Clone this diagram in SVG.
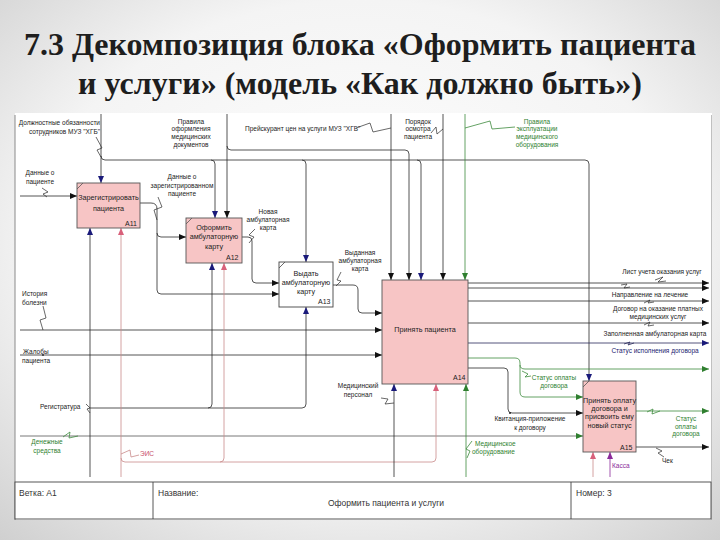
<svg xmlns="http://www.w3.org/2000/svg" width="720" height="540" viewBox="0 0 720 540">
<defs>
<radialGradient id="bg" cx="50%" cy="45%" r="75%">
<stop offset="0" stop-color="#ffffff"/>
<stop offset="0.6" stop-color="#f4f4f4"/>
<stop offset="1" stop-color="#cfcfcf"/>
</radialGradient>
<marker id="ak" markerUnits="userSpaceOnUse" markerWidth="7" markerHeight="6" refX="7" refY="3" orient="auto"><path d="M0,0 L7,3 L0,6 z" fill="#111"/></marker>
<marker id="an" markerUnits="userSpaceOnUse" markerWidth="7" markerHeight="6" refX="7" refY="3" orient="auto"><path d="M0,0 L7,3 L0,6 z" fill="#1a1a7a"/></marker>
<marker id="ag" markerUnits="userSpaceOnUse" markerWidth="7" markerHeight="6" refX="7" refY="3" orient="auto"><path d="M0,0 L7,3 L0,6 z" fill="#2f7f2f"/></marker>
<marker id="ap" markerUnits="userSpaceOnUse" markerWidth="7" markerHeight="6" refX="7" refY="3" orient="auto"><path d="M0,0 L7,3 L0,6 z" fill="#d8607a"/></marker>
<marker id="av" markerUnits="userSpaceOnUse" markerWidth="7" markerHeight="6" refX="7" refY="3" orient="auto"><path d="M0,0 L7,3 L0,6 z" fill="#8a2a9a"/></marker>
</defs>
<style>
.t{font-family:"Liberation Serif","Times New Roman",serif;font-weight:bold;font-size:32px;fill:#1e1e1e;text-anchor:middle}
.lb{font-family:"Liberation Sans",Arial,sans-serif;font-size:6.5px;fill:#222}
.bx{font-family:"Liberation Sans",Arial,sans-serif;font-size:7.2px;fill:#222;text-anchor:middle}
.id{font-family:"Liberation Sans",Arial,sans-serif;font-size:7px;fill:#222}
.tb{font-family:"Liberation Sans",Arial,sans-serif;font-size:8.5px;fill:#333}
.c{text-anchor:middle}
.e{text-anchor:end}
.gt{fill:#2f7f2f}
.nt{fill:#1a1a6e}
.rt{fill:#c8506a}
.vt{fill:#8a2a9a}
.box{fill:#f7c5c5;stroke:#555;stroke-width:0.9}
.wbox{fill:#ffffff;stroke:#444;stroke-width:0.9}
.k{fill:none;stroke:#2a2a2a;stroke-width:0.8}
.g{fill:none;stroke:#3d8a3d;stroke-width:0.8}
.p{fill:none;stroke:#c98a8a;stroke-width:0.8}
.n{fill:none;stroke:#2a2a5a;stroke-width:0.8}
.v{fill:none;stroke:#8a2a9a;stroke-width:0.8}
.z{fill:none;stroke:#2a2a2a;stroke-width:0.7}
</style>
<rect x="0" y="0" width="720" height="540" fill="url(#bg)"/>
<rect x="15" y="113" width="697" height="407" fill="#ffffff"/>
<line x1="15" y1="115" x2="15" y2="520" stroke="#8a8a8a" stroke-width="1"/>
<line x1="711.5" y1="115" x2="711.5" y2="520" stroke="#b0b0b0" stroke-width="0.8"/>

<text class="t" x="360" y="55">7.3 Декомпозиция блока «Оформить пациента</text>
<text class="t" x="360" y="94">и услуги» (модель «Как должно быть»)</text>

<g id="connectors">
<!-- controls -->
<path class="k" d="M101,114 V183" marker-end="url(#an)"/>
<path class="k" d="M101,156 Q101,160 105,160 H585 Q589,160 589,164 V381" marker-end="url(#an)"/>
<path class="k" d="M211,160 Q215,160 215,164 V218" marker-end="url(#an)"/>
<path class="k" d="M302,160 Q306,160 306,164 V262" marker-end="url(#an)"/>
<path class="k" d="M417,160 Q421,160 421,164 V280" marker-end="url(#an)"/>
<path class="k" d="M227,114 V218" marker-end="url(#ak)"/>
<path class="k" d="M227,146 Q227,150 231,150 H405 Q409,150 409,154 V280" marker-end="url(#ak)"/>
<path class="k" d="M391,114 V280" marker-end="url(#ak)"/>
<path class="k" d="M443,114 V280" marker-end="url(#ak)"/>
<path class="g" d="M465,114 V280" marker-end="url(#ag)"/>
<!-- inputs -->
<path class="k" d="M20,196 H77" marker-end="url(#ak)"/>
<path class="k" d="M140,203 H151 Q157,203 157,209 V290 Q157,294 161,294 H279" marker-end="url(#ak)"/>
<path class="k" d="M157,233 Q157,237 161,237 H186" marker-end="url(#ak)"/>
<path class="k" d="M242,237 H248 Q252,237 252,241 V279 Q252,283 256,283 H279" marker-end="url(#ak)"/>
<path class="k" d="M333,285 H353 Q358,285 358,290 V309 Q358,313 362,313 H382" marker-end="url(#ak)"/>
<path class="k" d="M20,330 H382" marker-end="url(#ak)"/>
<path class="k" d="M20,355 H382" marker-end="url(#ak)"/>
<path d="M20,436 H583" fill="none" stroke="#555" stroke-width="0.8" marker-end="url(#ag)"/>
<!-- mechanisms -->
<path class="k" d="M90,477 V228" marker-end="url(#an)"/>
<path class="k" d="M90,408 H302 Q306,408 306,404 V307" marker-end="url(#an)"/>
<path class="k" d="M208,408 Q212,408 212,404 V263" marker-end="url(#an)"/>
<path class="p" d="M121,477 V228" marker-end="url(#ap)"/>
<path class="p" d="M121,458 Q121,462 125,462 H432 Q436,462 436,458 V384" marker-end="url(#ap)"/>
<path class="p" d="M220,462 Q224,462 224,458 V263" marker-end="url(#ap)"/>
<path class="k" d="M394,477 V384" marker-end="url(#an)"/>
<path class="g" d="M466,477 V384" marker-end="url(#ag)"/>
<path class="p" d="M593,477 V452" marker-end="url(#ap)"/>
<path class="v" d="M610,477 V452" marker-end="url(#av)"/>
<!-- outputs -->
<path class="k" d="M468,283 H709" marker-end="url(#ak)"/>
<path class="k" d="M468,288 H709" marker-end="url(#ak)"/>
<path class="k" d="M468,301 H709" marker-end="url(#ak)"/>
<path class="k" d="M468,323 H709" marker-end="url(#ak)"/>
<path class="n" d="M468,343 H709" marker-end="url(#an)"/>
<path class="g" d="M468,358 H515 Q520,358 520,363 V392 Q520,397 525,397 H583" marker-end="url(#ag)"/>
<path class="g" d="M520,365 Q520,369 525,369 H709" marker-end="url(#ag)"/>
<path class="k" d="M468,368 H504 Q508,368 508,372 V409 Q508,413 512,413 H583" marker-end="url(#ak)"/>
<path class="g" d="M636,411 H709" marker-end="url(#ag)"/>
<path class="k" d="M636,447 H709" marker-end="url(#ak)"/>
<!-- squiggles -->
<polyline class="z" points="96,137 102,148 97,150 101,157"/>
<polyline class="z" points="356,128 370,123 373,132 391,128"/>
<polyline class="z" points="431,133 436,127 437,134 443,129"/>
<polyline class="g" points="465,128 490,121 492,129 515,127"/>
<polyline class="z" points="42,188 48,192 43,194 47,197"/>
<polyline class="z" points="158,197 162,207 154,210 157,220"/>
<polyline class="z" points="255,229 249,235 254,237 249,243"/>
<polyline class="z" points="341,272 337,280 341,281 336,286"/>
<polyline class="z" points="43,306 46,318 40,320 43,330"/>
<polyline class="z" points="86,404 90,408 87,409 90,413"/>
<polyline class="g" points="63,437 70,432 69,438 78,436"/>
<polyline class="p" points="121,454 130,450 131,457 139,455"/>
<polyline class="z" points="381,398 388,399 385,404 394,403"/>
<polyline class="g" points="472,441 466,449 470,451 467,458"/>
<polyline class="z" points="655,280 663,277 658,282 666,281"/>
<polyline class="z" points="621,285 627,284 624,288 630,287"/>
<polyline class="z" points="644,303 650,300 648,303 654,302"/>
<polyline class="z" points="644,325 650,322 648,326 654,325"/>
<polyline class="n" points="624,344 630,342 628,345 634,343"/>
<polyline class="g" points="522,371 528,374 525,377 531,376"/>
<polyline class="g" points="647,412 653,409 652,414 660,411"/>
<polyline class="z" points="656,448 662,451 658,453 664,457"/>
<circle cx="510" cy="413" r="1" fill="#222"/>
<circle cx="43" cy="355" r="0.9" fill="#222"/>
</g>

<g id="A11">
<rect class="box" x="77" y="183" width="63" height="45"/>
<line x1="77" y1="189" x2="83" y2="183" stroke="#555" stroke-width="0.8"/>
<text class="bx" x="108.5" y="200">Зарегистрировать</text>
<text class="bx" x="108.5" y="211">пациента</text>
<text class="id" x="125" y="226">A11</text>
</g>
<g id="A12">
<rect class="box" x="186" y="218" width="56" height="45"/>
<line x1="186" y1="224" x2="192" y2="218" stroke="#555" stroke-width="0.8"/>
<text class="bx" x="214" y="230">Оформить</text>
<text class="bx" x="214" y="239">амбулаторную</text>
<text class="bx" x="214" y="249">карту</text>
<text class="id" x="226" y="260">A12</text>
</g>
<g id="A13">
<rect class="wbox" x="279" y="262" width="54" height="45"/>
<line x1="279" y1="268" x2="285" y2="262" stroke="#444" stroke-width="0.8"/>
<text class="bx" x="306" y="276">Выдать</text>
<text class="bx" x="306" y="285">амбулаторную</text>
<text class="bx" x="306" y="294">карту</text>
<text class="id" x="318" y="304">A13</text>
</g>
<g id="A14">
<rect class="box" x="382" y="280" width="86" height="104"/>
<text class="bx" x="425" y="332">Принять пациента</text>
<text class="id" x="453" y="380">A14</text>
</g>
<g id="A15">
<rect class="box" x="583" y="381" width="53" height="71"/>
<line x1="583" y1="387" x2="589" y2="381" stroke="#555" stroke-width="0.8"/>
<text class="bx" x="609.5" y="403">Принять оплату</text>
<text class="bx" x="609.5" y="411">договора и</text>
<text class="bx" x="609.5" y="419">присвоить ему</text>
<text class="bx" x="609.5" y="428">новый статус</text>
<text class="id" x="620" y="450">A15</text>
</g>

<g id="labels">
<text class="lb e" x="100" y="125">Должностные обязанности</text>
<text class="lb e" x="100" y="134">сотрудников МУЗ "ХГБ"</text>
<text class="lb c" x="191" y="124">Правила</text>
<text class="lb c" x="191" y="131">оформления</text>
<text class="lb c" x="191" y="139">медицинских</text>
<text class="lb c" x="191" y="147">документов</text>
<text class="lb" x="245" y="131">Прейскурант цен на услуги МУЗ "ХГБ"</text>
<text class="lb c" x="418" y="124">Порядок</text>
<text class="lb c" x="418" y="131">осмотра</text>
<text class="lb c" x="418" y="139">пациента</text>
<text class="lb c gt" x="537" y="124">Правила</text>
<text class="lb c gt" x="537" y="131">эксплуатации</text>
<text class="lb c gt" x="537" y="139">медицинского</text>
<text class="lb c gt" x="537" y="147">оборудования</text>
<text class="lb c" x="40" y="175">Данные о</text>
<text class="lb c" x="40" y="184">пациенте</text>
<text class="lb c" x="182" y="179">Данные о</text>
<text class="lb c" x="182" y="188">зарегистрированном</text>
<text class="lb c" x="182" y="196">пациенте</text>
<text class="lb c" x="268" y="214">Новая</text>
<text class="lb c" x="268" y="222">амбулаторная</text>
<text class="lb c" x="268" y="230">карта</text>
<text class="lb c" x="360" y="255">Выданная</text>
<text class="lb c" x="360" y="263">амбулаторная</text>
<text class="lb c" x="360" y="271">карта</text>
<text class="lb" x="22" y="296">История</text>
<text class="lb" x="22" y="305">болезни</text>
<text class="lb" x="23" y="354">Жалобы</text>
<text class="lb" x="22" y="363">пациента</text>
<text class="lb" x="40" y="409">Регистратура</text>
<text class="lb c gt" x="47" y="444">Денежные</text>
<text class="lb c gt" x="47" y="453">средства</text>
<text class="lb rt" x="140" y="456">ЭИС</text>
<text class="lb c" x="358" y="388">Медицинский</text>
<text class="lb c" x="358" y="397">персонал</text>
<text class="lb gt" x="475" y="446">Медицинское</text>
<text class="lb gt" x="472" y="454">оборудование</text>
<text class="lb vt" x="612" y="468">Касса</text>
<text class="lb" x="662" y="463">Чек</text>
<text class="lb c" x="530" y="421">Квитанция-приложение</text>
<text class="lb c" x="530" y="430">к договору</text>
<text class="lb c gt" x="554" y="380">Статус оплаты</text>
<text class="lb c gt" x="554" y="388">договора</text>
<text class="lb c gt" x="686" y="421">Статус</text>
<text class="lb c gt" x="686" y="429">оплаты</text>
<text class="lb c gt" x="686" y="436">договора</text>
<text class="lb c" x="662" y="274">Лист учета оказания услуг</text>
<text class="lb c" x="650" y="297">Направление на лечение</text>
<text class="lb c" x="658" y="311">Договор на оказание платных</text>
<text class="lb c" x="658" y="319">медицинских услуг</text>
<text class="lb c" x="655" y="336">Заполненная амбулаторная карта</text>
<text class="lb c nt" x="655" y="353">Статус исполнения договора</text>
</g>

<g id="table">
<rect x="15" y="482" width="696" height="37" fill="#ffffff" stroke="#444" stroke-width="0.9"/>
<line x1="153" y1="482" x2="153" y2="519" stroke="#444" stroke-width="0.9"/>
<line x1="571" y1="482" x2="571" y2="519" stroke="#444" stroke-width="0.9"/>
<text class="tb" x="19" y="496">Ветка: A1</text>
<text class="tb" x="158" y="496">Название:</text>
<text class="tb" x="386" y="506" text-anchor="middle">Оформить пациента и услуги</text>
<text class="tb" x="576" y="496">Номер: 3</text>
</g>
</svg>
